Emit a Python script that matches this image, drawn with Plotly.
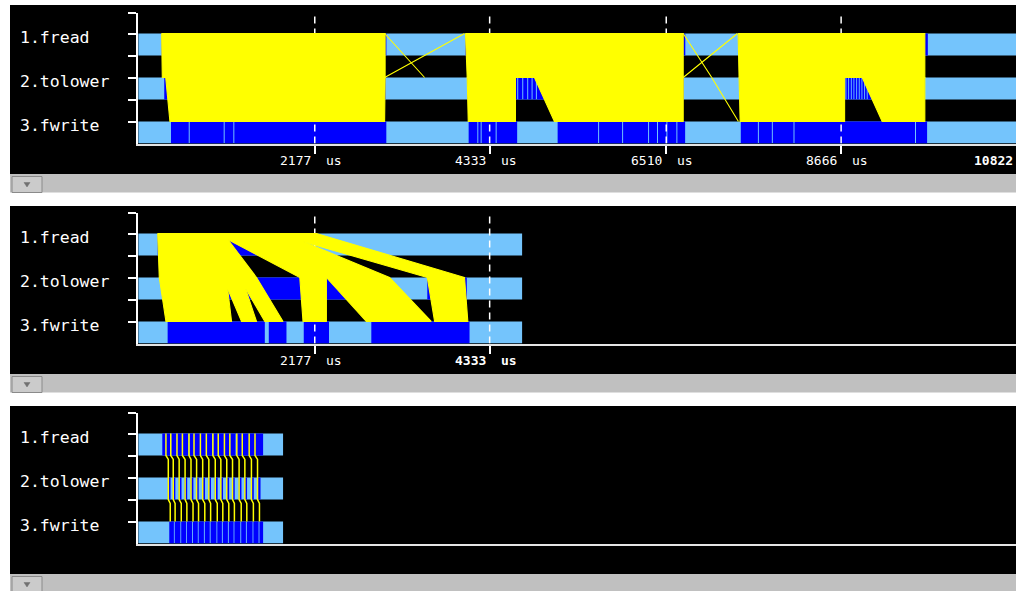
import plotly.graph_objects as go

W, H = 1016, 591

STAGES = ["1.fread", "2.tolower", "3.fwrite"]

# ---------------- panel 1: whole run ----------------
P1_END = 10822
P1_TICKS = [2177, 4333, 6510, 8666]
P1_FREAD_BUSY = [(289, 3060), (4035, 6745), (7396, 9735)]
P1_TOLOWER_BUSY = [(321, 3050), (4056, 4673), (4685, 4735), (4747, 4796), (4808, 4850),
                   (4862, 4903), (4915, 6725), (7408, 8720), (8731, 8753), (8764, 8786),
                   (8797, 8818), (8829, 8852), (8863, 8884), (8895, 8917), (8928, 8950),
                   (8961, 8982), (8993, 9700)]
P1_FWRITE_BUSY = [(404, 623), (635, 1054), (1066, 1173), (1185, 3059),
                  (4074, 4181), (4193, 4222), (4234, 4407), (4419, 4672),
                  (5171, 5670), (5682, 5966), (5978, 6286), (6298, 6396), (6408, 6512),
                  (6524, 6635), (6647, 6743),
                  (7429, 7640), (7652, 7812), (7824, 8079), (8091, 9577), (9589, 9726)]
# hand-offs: (first start, last start, first arrival, last arrival) in us
P1_READ_TO_LOWER = [(289, 3044, 297, 3044), (4035, 6719, 4056, 6719), (7396, 9698, 7408, 9698),
                    (3038, 3038, 3531, 3531), (4023, 4023, 3038, 3038),
                    (6719, 6719, 7071, 7071), (7387, 7387, 6719, 6719)]
P1_LOWER_TO_WRITE = [(339, 3044, 391, 3038), (4056, 4651, 4069, 4651), (4885, 6719, 5131, 6719),
                     (7408, 8709, 7421, 8709), (8926, 9698, 9172, 9698), (7071, 7071, 7400, 7400)]

# ---------------- panel 2: first 4.7 ms ----------------
P2_END = 4733
P2_TICKS = [2177, 4333]
P2_FREAD_BUSY = [(240, 2053)]
P2_TOLOWER_BUSY = [(300, 2650), (3564, 4051)]
P2_FWRITE_BUSY = [(363, 1561), (1610, 1828), (2041, 2352), (2874, 4085)]
P2_READ_TO_LOWER = [(240, 1050, 260, 1459), (965, 1499, 1992, 2320),
                    (1376, 1791, 2320, 3100), (1688, 2197, 3564, 4023)]
P2_LOWER_TO_WRITE = [(260, 1086, 342, 1151), (1044, 1278, 1274, 1459), (1245, 1459, 1561, 1786),
                     (1992, 2320, 2032, 2320), (2320, 3100, 2813, 3613), (3564, 4023, 3654, 4064)]

# ---------------- panel 3: first 1.8 ms ----------------
P3_END = 1786
P3_TICKS = []
P3_FREAD_BUSY = [(297, 395), (407, 620), (632, 912), (924, 1200), (1212, 1540)]
P3_TOLOWER_BUSY = [(366, 399), (428, 458), (500, 534), (572, 604), (647, 680), (716, 746),
                   (790, 824), (866, 897), (944, 979), (1015, 1046), (1087, 1121), (1158, 1190),
                   (1239, 1273), (1311, 1342), (1391, 1425), (1466, 1508)]
P3_FWRITE_BUSY = [(383, 440), (450, 520), (530, 590), (600, 665), (676, 735), (745, 810),
                  (821, 882), (893, 965), (975, 1032), (1043, 1106), (1117, 1176), (1186, 1259),
                  (1270, 1328), (1339, 1410), (1420, 1484), (1495, 1540)]
P3_READ_T = [342, 401, 478, 545, 626, 688, 767, 840, 921, 987, 1063, 1130, 1216, 1283, 1368, 1440]
P3_LOWER_T = [371, 432, 505, 578, 651, 720, 795, 871, 950, 1019, 1092, 1163, 1244, 1315, 1396, 1471]
P3_WRITE_T = [395, 455, 531, 600, 676, 744, 821, 893, 975, 1043, 1117, 1186, 1270, 1339, 1420, 1495]

# ---------------- styling ----------------
IDLE = "#74c4fc"
BUSY = "#0000ff"
FLOW = "#ffff00"
MONO = "DejaVu Sans Mono"
BAR_HALF = 0.25
Y_LO, Y_HI = -0.25, 2.716
X_LEFT_PX = 138.2

# pixel frame of each panel: (black top, black bottom, axis top, axis bottom)
FRAMES = [(5, 174, 13, 143.5), (206, 374, 213, 343.5), (406, 574, 413, 543.5)]


def pxx(x):
    return x / W


def pxy(y):
    return 1 - y / H


def row_level(i):
    return len(STAGES) - 1 - i


def rects(spans, yc):
    xs, ys = [], []
    for s, e in spans:
        xs += [s, e, e, s, s, None]
        ys += [yc - BAR_HALF, yc - BAR_HALF, yc + BAR_HALF, yc + BAR_HALF, yc - BAR_HALF, None]
    return xs, ys


def bands(items, top_from, top_to):
    xs, ys = [], []
    for l0, r0, l1, r1 in items:
        xs += [l0, r0, r1, l1, l0, None]
        ys += [top_from, top_from, top_to, top_to, top_from, None]
    return xs, ys


fig = go.Figure()
shapes, annotations = [], []

panels = [
    (P1_END, P1_TICKS, [P1_FREAD_BUSY, P1_TOLOWER_BUSY, P1_FWRITE_BUSY],
     P1_READ_TO_LOWER, P1_LOWER_TO_WRITE, None, "10822"),
    (P2_END, P2_TICKS, [P2_FREAD_BUSY, P2_TOLOWER_BUSY, P2_FWRITE_BUSY],
     P2_READ_TO_LOWER, P2_LOWER_TO_WRITE, None, None),
    (P3_END, P3_TICKS, [P3_FREAD_BUSY, P3_TOLOWER_BUSY, P3_FWRITE_BUSY],
     [], [], (P3_READ_T, P3_LOWER_T, P3_WRITE_T), None),
]

for k, (end, ticks, busy, r2l, l2w, paths, edge_label) in enumerate(panels):
    n = "" if k == 0 else str(k + 1)
    xa, ya = "x" + n, "y" + n
    btop, bbot, atop, abot = FRAMES[k]

    # panel background + scroll strip
    shapes.append(dict(type="rect", xref="paper", yref="paper", layer="below",
                       x0=pxx(10), x1=1, y0=pxy(bbot), y1=pxy(btop),
                       fillcolor="black", line_width=0))
    shapes.append(dict(type="rect", xref="paper", yref="paper", layer="below",
                       x0=pxx(10), x1=1, y0=pxy(bbot + 18.5), y1=pxy(bbot),
                       fillcolor="#c0c0c0", line_width=0))
    shapes.append(dict(type="rect", xref="paper", yref="paper", layer="below",
                       x0=pxx(12), x1=pxx(42), y0=pxy(bbot + 18.5), y1=pxy(bbot + 2.5),
                       fillcolor="#cbcbcb", line=dict(color="#8a8a8a", width=1)))
    shapes.append(dict(type="path", xref="paper", yref="paper", layer="below",
                       path=f"M {pxx(24)} {pxy(bbot + 8.5)} L {pxx(30)} {pxy(bbot + 8.5)} "
                            f"L {pxx(27)} {pxy(bbot + 13)} Z",
                       fillcolor="#707070", line=dict(color="#707070", width=0.5)))

    # idle (full length) bars
    ix, iy = [], []
    for i in range(len(STAGES)):
        x_, y_ = rects([(0, end)], row_level(i))
        ix += x_
        iy += y_
    fig.add_trace(go.Scatter(x=ix, y=iy, xaxis=xa, yaxis=ya, mode="lines", fill="toself",
                             fillcolor=IDLE, line=dict(width=0), hoverinfo="skip"))
    # busy spans
    bx, by = [], []
    for i, spans in enumerate(busy):
        x_, y_ = rects(spans, row_level(i))
        bx += x_
        by += y_
    fig.add_trace(go.Scatter(x=bx, y=by, xaxis=xa, yaxis=ya, mode="lines", fill="toself",
                             fillcolor=BUSY, line=dict(width=0), hoverinfo="skip"))
    # dashed time markers
    gx, gy = [], []
    for t in ticks:
        gx += [t, t, None]
        gy += [Y_LO, Y_HI, None]
    if gx:
        fig.add_trace(go.Scatter(x=gx, y=gy, xaxis=xa, yaxis=ya, mode="lines",
                                 line=dict(color="white", width=1.5, dash="7px,5px"),
                                 hoverinfo="skip"))
    # hand-off flows
    top_read = row_level(0) + BAR_HALF
    top_lower = row_level(1) + BAR_HALF
    top_write = row_level(2) + BAR_HALF
    for items, a, b in ((r2l, top_read, top_lower), (l2w, top_lower, top_write)):
        if not items:
            continue
        fx, fy = bands(items, a, b)
        fig.add_trace(go.Scatter(x=fx, y=fy, xaxis=xa, yaxis=ya, mode="lines", fill="toself",
                                 fillcolor=FLOW, line=dict(color=FLOW, width=1.1),
                                 hoverinfo="skip"))
    if paths:
        rt, lt, wt = paths
        px_, py_ = [], []
        bot_read = row_level(0) - BAR_HALF
        bot_lower = row_level(1) - BAR_HALF
        for a, b, c in zip(rt, lt, wt):
            px_ += [a, a, b, b, c, c, None]
            py_ += [top_read, bot_read, bot_read - 0.09, bot_lower, bot_lower - 0.09, top_write, None]
        fig.add_trace(go.Scatter(x=px_, y=py_, xaxis=xa, yaxis=ya, mode="lines",
                                 line=dict(color=FLOW, width=1.5), hoverinfo="skip"))

    # axes
    fig.layout["xaxis" + n] = dict(
        domain=[X_LEFT_PX / W, 1.0], range=[0, P1_END], anchor=ya,
        showgrid=False, zeroline=False, showline=True, linecolor="#e4e4e4", linewidth=2,
        ticks="outside" if ticks else "", tickvals=ticks, ticklen=8, tickwidth=1.5,
        tickcolor="white", showticklabels=False, fixedrange=True)
    fig.layout["yaxis" + n] = dict(
        domain=[pxy(abot), pxy(atop)], range=[Y_LO, Y_HI], anchor=xa,
        showgrid=False, zeroline=False, showline=True, linecolor="white", linewidth=2,
        ticks="outside", tickvals=[0.25, 0.75, 1.25, 1.75, 2.25, Y_HI], ticklen=8,
        tickwidth=1.5, tickcolor="white", showticklabels=False, fixedrange=True)

    # stage names
    for i, name in enumerate(STAGES):
        annotations.append(dict(text=name, xref="paper", yref=ya, x=pxx(18),
                                y=row_level(i) + 0.16, xanchor="left", yanchor="middle",
                                showarrow=False, font=dict(family=MONO, size=16.5, color="white")))

    # time labels
    label_y = pxy(abot + 17.3)
    for j, t in enumerate(ticks):
        last = (j == len(ticks) - 1) and edge_label is None and k == 1
        num = f"<b>{t}</b>" if last else str(t)
        unit = "<b>us</b>" if last else "us"
        annotations.append(dict(text=num, xref=xa, yref="paper", x=t, y=label_y,
                                xanchor="right", yanchor="middle", xshift=-2, showarrow=False,
                                font=dict(family=MONO, size=13, color="white")))
        annotations.append(dict(text=unit, xref=xa, yref="paper", x=t, y=label_y,
                                xanchor="left", yanchor="middle", xshift=9, showarrow=False,
                                font=dict(family=MONO, size=13, color="white")))
    if edge_label:
        annotations.append(dict(text=f"<b>{edge_label}</b>", xref=xa, yref="paper", x=end,
                                y=label_y, xanchor="right", yanchor="middle", xshift=-1,
                                showarrow=False,
                                font=dict(family=MONO, size=13, color="white")))

fig.update_layout(
    width=W, height=H, margin=dict(l=0, r=0, t=0, b=0),
    paper_bgcolor="white", plot_bgcolor="black", showlegend=False,
    hovermode=False, shapes=shapes, annotations=annotations)

fig.write_html("out.html")
